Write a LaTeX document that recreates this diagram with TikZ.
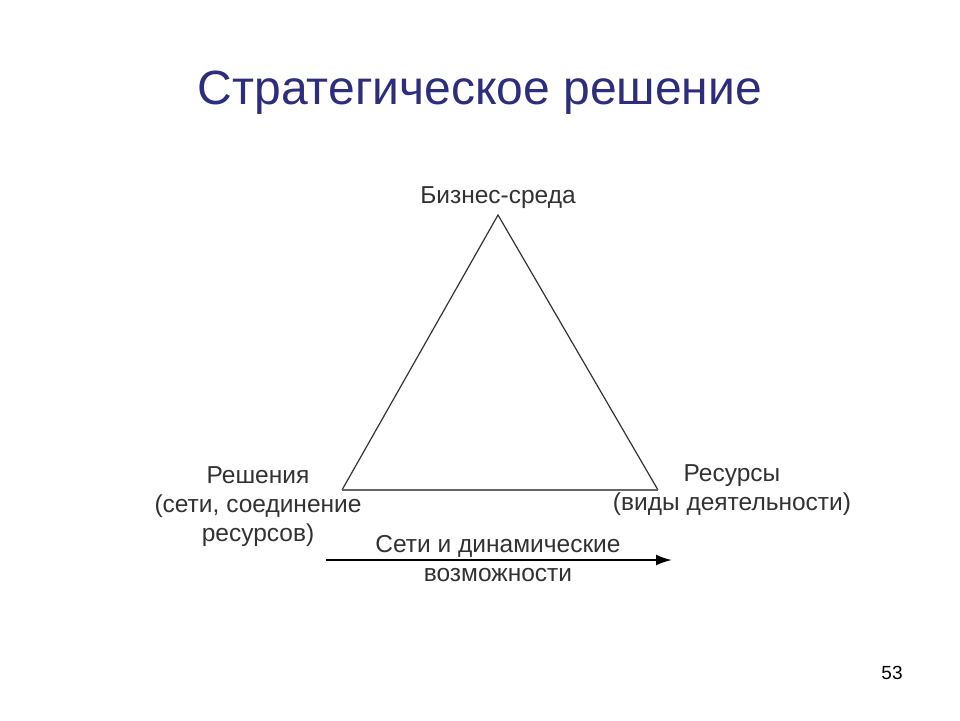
\documentclass[tikz,border=0pt]{standalone}
\usepackage{fontspec}
\setmainfont{Liberation Sans}
\usetikzlibrary{arrows.meta}
\definecolor{ttl}{RGB}{45,45,125}
\definecolor{txt}{RGB}{50,50,50}
\begin{document}
\begin{tikzpicture}[x=1pt,y=-1pt,
  lbl/.style={font=\fontsize{24.5}{29}\selectfont,text=txt,align=center,inner sep=0pt},
  edge/.style={draw=black!80,line width=1.2pt}]
\useasboundingbox (0,0) rectangle (960,720);
\node[text=ttl,font=\fontsize{48}{56}\selectfont,inner sep=0pt] (t) at (480,93) {Стратегическое решение};
\coordinate (A) at (498,215);
\coordinate (B) at (342,490);
\coordinate (C) at (658,490);
\draw[edge] (B) -- (A) -- (C);
\draw[draw=black!60,line width=2.5pt] (B) -- (C);
\node[lbl] (a) at (498,198) {Бизнес-среда};
\node[lbl] (b) at (258,507) {Решения\\(сети, соединение\\ресурсов)};
\node[lbl] (c) at (732,490) {Ресурсы\\(виды деятельности)};
\coordinate (s) at (326,560);
\coordinate (e) at (672,560);
\draw[line width=2.2pt,-{Latex[length=16pt,width=11pt]}] (s) -- (e);
\node[lbl] (d) at (498,559) {Сети и динамические\\возможности};
\node[font=\fontsize{19}{22}\selectfont,inner sep=0pt] (n) at (892,673) {53};
\end{tikzpicture}
\end{document}
